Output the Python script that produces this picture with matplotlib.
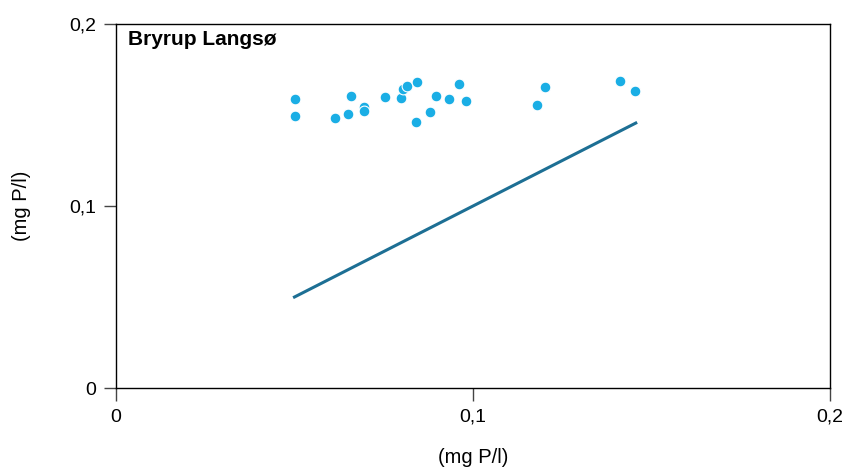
import numpy as np
import matplotlib.pyplot as plt
from matplotlib.ticker import FuncFormatter

plt.rcParams['font.family'] = ['Liberation Sans', 'DejaVu Sans']

# Measured vs. modelled total phosphorus (mg P/l)
x_obs = [0.0501, 0.0501, 0.0614, 0.0649, 0.0657, 0.0694, 0.0694, 0.0754,
         0.0798, 0.0805, 0.0814, 0.0844, 0.0841, 0.0880, 0.0896, 0.0933,
         0.0962, 0.0980, 0.1179, 0.1202, 0.1413, 0.1455]
y_obs = [0.1586, 0.1495, 0.1484, 0.1505, 0.1604, 0.1546, 0.1524, 0.1599,
         0.1595, 0.1641, 0.1659, 0.1680, 0.1462, 0.1516, 0.1606, 0.1588,
         0.1672, 0.1577, 0.1555, 0.1654, 0.1688, 0.1630]

# 1:1 reference line over the observed range
line_x = [0.05, 0.1456]
line_y = [0.05, 0.1456]

lake = "Bryrup Langsø"
unit = "(mg P/l)"

fig = plt.figure(figsize=(8.49, 4.69), dpi=100)
ax = fig.add_axes([0.1366, 0.1727, 0.841, 0.776])

ax.plot(line_x, line_y, color='#1d6f94', linewidth=2.2)
ax.scatter(x_obs, y_obs, s=60, color='#1aaee5', edgecolors='white',
           linewidths=0.8, zorder=3)

ax.set_xlim(0, 0.2)
ax.set_ylim(0, 0.2)
ax.set_xticks([0, 0.1, 0.2])
ax.set_yticks([0, 0.1, 0.2])

fmt = FuncFormatter(lambda v, pos: '0' if v == 0 else f'{v:.1f}'.replace('.', ','))
ax.xaxis.set_major_formatter(fmt)
ax.yaxis.set_major_formatter(fmt)

ax.tick_params(axis='both', direction='out', length=9, width=1,
               labelsize=14, color='#444444')
ax.tick_params(axis='x', pad=6)
ax.tick_params(axis='y', pad=5)
for sp in ax.spines.values():
    sp.set_linewidth(1)
    sp.set_color('black')

ax.set_xlabel(unit, fontsize=14.5, va='center')
ax.xaxis.set_label_coords(0.5, -0.19)
ax.set_ylabel(unit, fontsize=14.5, va='center')
ax.yaxis.set_label_coords(-0.132, 0.5)
ax.text(0.0168, 0.942, lake, transform=ax.transAxes, fontsize=15,
        fontweight='bold', va='baseline', ha='left')

fig.savefig('out.png', dpi=100)
